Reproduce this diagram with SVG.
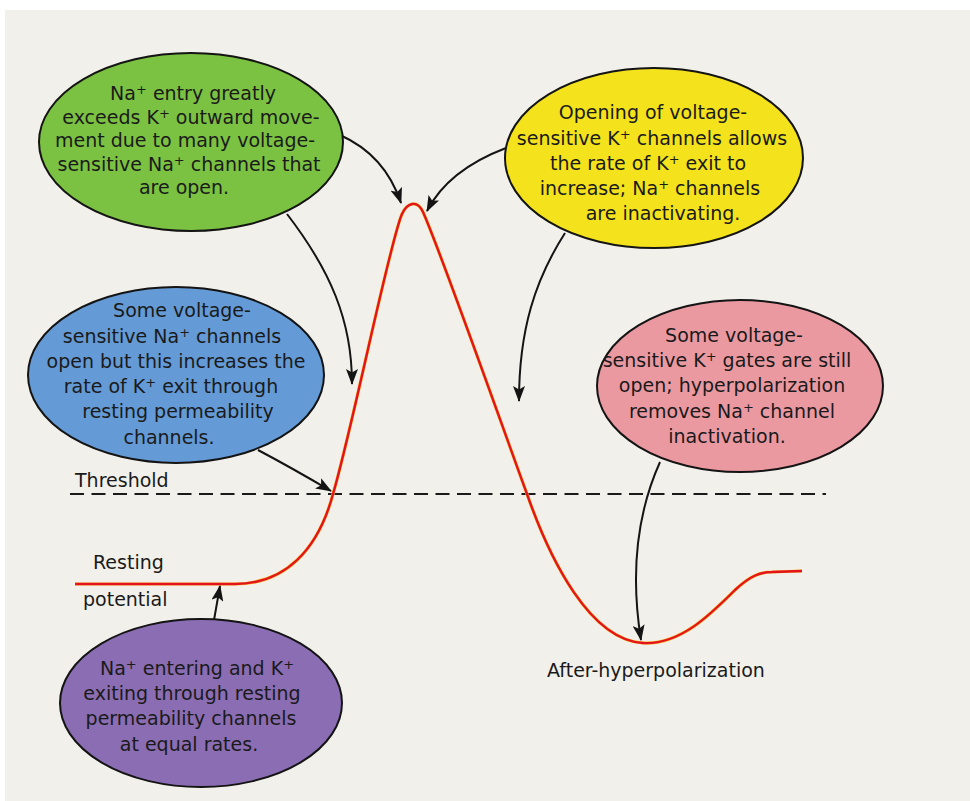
<svg xmlns="http://www.w3.org/2000/svg" width="970" height="801" viewBox="0 0 970 801">
<defs>
<style>
.bub{stroke:#141414;stroke-width:2}
.t{font-family:"DejaVu Sans","Liberation Sans",sans-serif;font-size:19px;fill:#1a1a1a;text-anchor:middle}
.lbl{font-family:"DejaVu Sans","Liberation Sans",sans-serif;font-size:19px;fill:#1a1a1a}
.conn{fill:none;stroke:#141414;stroke-width:2;marker-end:url(#ah)}
</style>
<marker id="ah" markerUnits="userSpaceOnUse" markerWidth="16" markerHeight="12" refX="15" refY="6" orient="auto">
<path d="M0,0 L16,6 L0,12 L3.5,6 z" fill="#141414"/>
</marker>
</defs>
<rect x="0" y="0" width="970" height="801" fill="#ffffff"/>
<rect x="5" y="10" width="965" height="791" fill="#f2f0eb"/>

<g id="threshold-line">
<line x1="70" y1="494" x2="826" y2="494" stroke="#1a1a1a" stroke-width="2" stroke-dasharray="14 7.5"/>
</g>

<g id="action-potential-curve">
<path d="M 75 584 L 235 584 C 285 584, 318 550, 333 494 C 352 430, 390 240, 402 214 C 407 203, 417 199, 423 212 C 440 250, 500 420, 527 494 C 550 560, 590 640, 643 643 C 680 645, 710 615, 735 590 C 750 576, 760 572, 772 572 L 802 571" fill="none" stroke="#f5c030" stroke-width="3.2" stroke-linejoin="round"/>
<path d="M 75 584 L 235 584 C 285 584, 318 550, 333 494 C 352 430, 390 240, 402 214 C 407 203, 417 199, 423 212 C 440 250, 500 420, 527 494 C 550 560, 590 640, 643 643 C 680 645, 710 615, 735 590 C 750 576, 760 572, 772 572 L 802 571" fill="none" stroke="#e3141c" stroke-width="2.4" stroke-linejoin="round"/>
</g>

<g id="connectors">
<path class="conn" d="M 340 135 Q 385 155 401 203"/>
<path class="conn" d="M 287 214 C 330 270, 352 320, 352 384"/>
<path class="conn" d="M 506 148 Q 448 170 427 211"/>
<path class="conn" d="M 565 233 C 535 280, 519 330, 519 401"/>
<path class="conn" d="M 258 450 Q 292 468 331 491"/>
<path class="conn" d="M 214 620 L 220 586"/>
<path class="conn" d="M 660 462 Q 625 540 641 640"/>
</g>

<g id="node-na-entry">
<ellipse class="bub" cx="191" cy="142" rx="152" ry="89" fill="#7cc242"/>
<text class="t" x="193" y="100">Na<tspan font-size="13" baseline-shift="6">+</tspan> entry greatly</text>
<text class="t" x="191" y="124">exceeds K<tspan font-size="13" baseline-shift="6">+</tspan> outward move-</text>
<text class="t" x="185" y="147">ment due to many voltage-</text>
<text class="t" x="189" y="171">sensitive Na<tspan font-size="13" baseline-shift="6">+</tspan> channels that</text>
<text class="t" x="184" y="194">are open.</text>
</g>

<g id="node-k-opening">
<ellipse class="bub" cx="654" cy="158" rx="149" ry="90" fill="#f4e31c"/>
<text class="t" x="653" y="119">Opening of voltage-</text>
<text class="t" x="652" y="145">sensitive K<tspan font-size="13" baseline-shift="6">+</tspan> channels allows</text>
<text class="t" x="648" y="170">the rate of K<tspan font-size="13" baseline-shift="6">+</tspan> exit to</text>
<text class="t" x="650" y="195">increase; Na<tspan font-size="13" baseline-shift="6">+</tspan> channels</text>
<text class="t" x="663" y="220">are inactivating.</text>
</g>

<g id="node-some-na-open">
<ellipse class="bub" cx="176" cy="375" rx="148" ry="88" fill="#649bd6"/>
<text class="t" x="182" y="317">Some voltage-</text>
<text class="t" x="172" y="343">sensitive Na<tspan font-size="13" baseline-shift="6">+</tspan> channels</text>
<text class="t" x="176" y="368">open but this increases the</text>
<text class="t" x="171" y="393">rate of K<tspan font-size="13" baseline-shift="6">+</tspan> exit through</text>
<text class="t" x="178" y="418">resting permeability</text>
<text class="t" x="169" y="444">channels.</text>
</g>

<g id="node-k-gates-open">
<ellipse class="bub" cx="740" cy="386" rx="143" ry="86" fill="#eb99a1"/>
<text class="t" x="734" y="342">Some voltage-</text>
<text class="t" x="727" y="367">sensitive K<tspan font-size="13" baseline-shift="6">+</tspan> gates are still</text>
<text class="t" x="732" y="392">open; hyperpolarization</text>
<text class="t" x="732" y="418">removes Na<tspan font-size="13" baseline-shift="6">+</tspan> channel</text>
<text class="t" x="727" y="443">inactivation.</text>
</g>

<g id="node-resting">
<ellipse class="bub" cx="201" cy="703" rx="141" ry="84" fill="#8b6db3"/>
<text class="t" x="197" y="675">Na<tspan font-size="13" baseline-shift="6">+</tspan> entering and K<tspan font-size="13" baseline-shift="6">+</tspan></text>
<text class="t" x="192" y="700">exiting through resting</text>
<text class="t" x="191" y="725">permeability channels</text>
<text class="t" x="189" y="751">at equal rates.</text>
</g>

<g id="labels">
<text class="lbl" x="75" y="487">Threshold</text>
<text class="lbl" x="93" y="569">Resting</text>
<text class="lbl" x="83" y="606">potential</text>
<text class="lbl" x="547" y="677">After-hyperpolarization</text>
</g>
</svg>
